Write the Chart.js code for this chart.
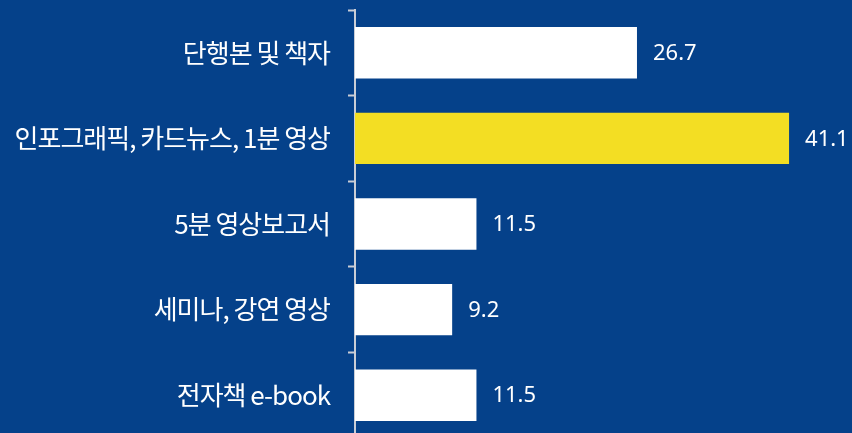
<!DOCTYPE html>
<html>
<head>
<meta charset="utf-8">
<script src="https://cdn.jsdelivr.net/npm/chart.js@4"></script>
<style>
  html, body { margin: 0; padding: 0; background: #05418A; overflow: hidden; }
  #wrap { position: relative; width: 852px; height: 438px; }
</style>
</head>
<body>
<div id="wrap"><canvas id="c"></canvas></div>
<script>
const categories = ["단행본 및 책자", "인포그래픽, 카드뉴스, 1분 영상", "5분 영상보고서", "세미나, 강연 영상", "전자책 e-book"];
const values = [26.7, 41.1, 11.5, 9.2, 11.5];
const barColors = ["#FFFFFF", "#F3DE23", "#FFFFFF", "#FFFFFF", "#FFFFFF"];

const valueLabels = {
  id: 'valueLabels',
  beforeDraw(chart) {
    chart.ctx.letterSpacing = '-1px';
  },
  afterDatasetsDraw(chart) {
    const ctx = chart.ctx;
    ctx.save();
    ctx.letterSpacing = '0px';
    ctx.font = '22px "Noto Sans"';
    ctx.fillStyle = '#FFFFFF';
    ctx.textAlign = 'left';
    ctx.textBaseline = 'middle';
    const meta = chart.getDatasetMeta(0);
    meta.data.forEach((el, i) => {
      ctx.fillText(String(values[i]), el.x + 16, el.y + 1);
    });
    ctx.restore();
  }
};

new Chart(document.getElementById('c'), {
  type: 'bar',
  data: {
    labels: categories,
    datasets: [{
      data: values,
      backgroundColor: barColors,
      borderWidth: 0,
      barPercentage: 0.6,
      categoryPercentage: 1.0
    }]
  },
  options: {
    indexAxis: 'y',
    responsive: true,
    maintainAspectRatio: false,
    animation: false,
    layout: { padding: { top: 10, right: 0, bottom: 0, left: 0 } },
    plugins: { legend: { display: false }, tooltip: { enabled: false } },
    scales: {
      x: {
        display: false,
        min: 0,
        max: 47.06
      },
      y: {
        afterFit(scale) {
          scale.width = 355;
          scale.paddingTop = 0;
          scale.paddingBottom = 0;
        },
        grid: {
          offset: true,
          drawOnChartArea: false,
          drawTicks: true,
          tickLength: 7,
          tickWidth: 2,
          tickColor: '#C9CDD6'
        },
        border: { display: true, color: '#C9CDD6', width: 2 },
        ticks: {
          color: '#FFFFFF',
          padding: 18,
          font: { family: '"Noto Sans CJK KR"', size: 26 }
        }
      }
    }
  },
  plugins: [valueLabels]
});
</script>
</body>
</html>
